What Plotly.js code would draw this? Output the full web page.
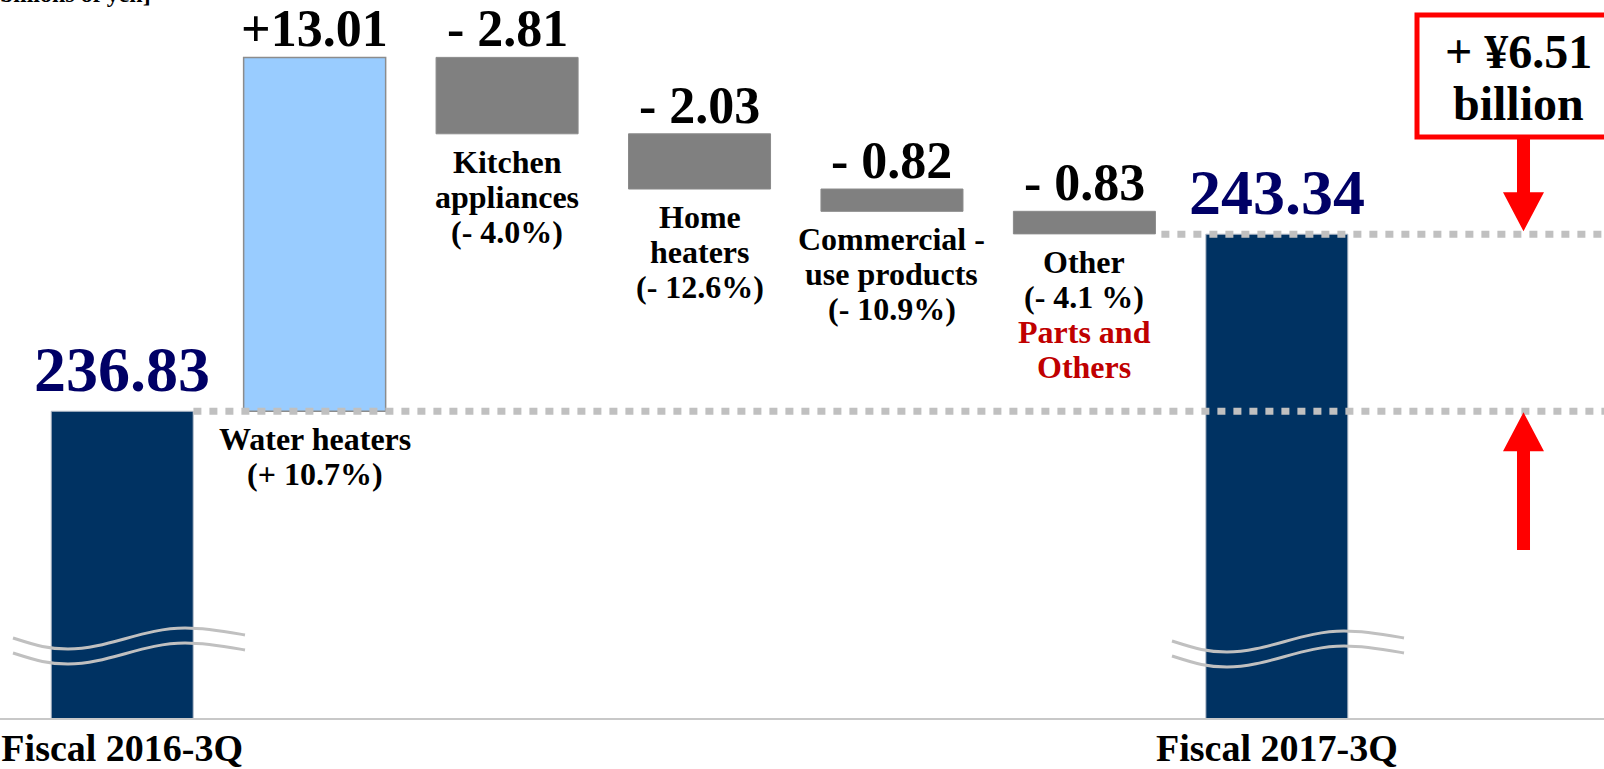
<!DOCTYPE html>
<html><head><meta charset="utf-8">
<script src="https://cdn.plot.ly/plotly-3.0.1.min.js"></script>
<style>html,body{margin:0;padding:0;background:#fff;overflow:hidden}#chart{width:1604px;height:769px}</style>
</head><body><div id="chart"></div>
<script>
// ---- data ----
const categories = ['Fiscal 2016-3Q', 'Water heaters', 'Kitchen appliances', 'Home heaters', 'Commercial-use products', 'Other', 'Fiscal 2017-3Q'];
const measures = ['absolute', 'relative', 'relative', 'relative', 'relative', 'relative', 'absolute'];
const values = [236.83, 13.01, -2.81, -2.03, -0.82, -0.83, 243.34];
const valueLabels = ['236.83', '+13.01', '- 2.81', '- 2.03', '- 0.82', '- 0.83', '243.34'];
const tickLabels = ['Fiscal 2016-3Q', '', '', '', '', '', 'Fiscal 2017-3Q'];
const categoryLabelLines = [[], ['Water heaters', '(+ 10.7%)'], ['Kitchen', 'appliances', '(- 4.0%)'], ['Home', 'heaters', '(- 12.6%)'], ['Commercial -', 'use products', '(- 10.9%)'], ['Other', '(- 4.1 %)'], []];
const noteLines = [[], [], [], [], [], ['Parts and', 'Others'], []];
const changeLines = ['+ ¥6.51', 'billion'];
const unitLabel = '[billions of yen]';

// ---- layout helpers ----
const W = 1604, PH = 718;            // plot area width / height in px
const yRange = [225.55, 251.95];
const xRange = [-0.635, 7.70];
const FONT = 'Liberation Serif, Times New Roman, serif';
const px = x => x / W;
const py = y => 1 - y / PH;
const valToPx = v => PH * (1 - (v - yRange[0]) / (yRange[1] - yRange[0]));

// running totals
const tops = [], bottoms = [];
let running = 0;
values.forEach((v, i) => {
  if (measures[i] === 'absolute') { running = v; tops.push(v); bottoms.push(null); }
  else { const prev = running; running += v; tops.push(Math.max(prev, running)); bottoms.push(Math.min(prev, running)); }
});

const annotations = [];
values.forEach((v, i) => {
  const isTotal = measures[i] === 'absolute';
  annotations.push({
    x: categories[i], y: tops[i], xref: 'x', yref: 'y', text: valueLabels[i], showarrow: false,
    xanchor: 'center', yanchor: 'bottom', yshift: isTotal ? 4 : -2,
    font: {family: FONT, size: isTotal ? 64 : 52, color: isTotal ? '#000066' : '#000000', weight: 'bold'}
  });
  const lines = categoryLabelLines[i].map(t => ({t, c: '#000000'})).concat(noteLines[i].map(t => ({t, c: '#C00000'})));
  lines.forEach((ln, k) => {
    annotations.push({
      x: categories[i], y: bottoms[i] !== null ? bottoms[i] : tops[i], xref: 'x', yref: 'y', text: ln.t, showarrow: false,
      xanchor: 'center', yanchor: 'top', yshift: -(8 + k * 35),
      font: {family: FONT, size: 32, color: ln.c, weight: 'bold'}
    });
  });
});
// change box text
changeLines.forEach((t, k) => {
  annotations.push({
    x: px(1518), y: py(23 + k * 52), xref: 'paper', yref: 'paper', text: t, showarrow: false,
    xanchor: 'center', yanchor: 'top', font: {family: FONT, size: 48, color: '#000000', weight: 'bold'}
  });
});
// unit label (cut at the top edge, as in the source slide)
annotations.push({
  x: px(153), y: py(9), xref: 'paper', yref: 'paper', text: unitLabel, showarrow: false,
  xanchor: 'right', yanchor: 'bottom', font: {family: FONT, size: 24, color: '#000000', weight: 'bold'}
});

// shapes
const shapes = [];
const dot = () => ({color: '#c0c0c0', width: 7, dash: '8px,8px'});
shapes.push({type: 'line', xref: 'x', yref: 'y', x0: 0.37, x1: xRange[1], y0: values[0], y1: values[0], line: dot()});
shapes.push({type: 'line', xref: 'x', yref: 'y', x0: 5.40, x1: xRange[1], y0: values[6], y1: values[6], line: dot()});

function wavePath(x0, y0) {
  const P = (x, y) => px(x).toFixed(5) + ',' + py(y).toFixed(5);
  return 'M' + P(x0, y0) +
    ' C' + P(x0 + 25, y0 + 8) + ' ' + P(x0 + 35, y0 + 11) + ' ' + P(x0 + 55, y0 + 11) +
    ' C' + P(x0 + 95, y0 + 11) + ' ' + P(x0 + 130, y0 - 10) + ' ' + P(x0 + 172, y0 - 10) +
    ' C' + P(x0 + 195, y0 - 10) + ' ' + P(x0 + 215, y0 - 6) + ' ' + P(x0 + 232, y0 - 3);
}
[[13, 638], [1172, 641]].forEach(([x0, y0]) => {
  [0, 15].forEach(d => shapes.push({type: 'path', xref: 'paper', yref: 'paper', path: wavePath(x0, y0 + d), line: {color: '#c0c0c0', width: 3}}));
});

// red box
shapes.push({type: 'rect', xref: 'paper', yref: 'paper', x0: px(1417), x1: 1.02, y0: py(15), y1: py(137),
  line: {color: '#ff0000', width: 5}, fillcolor: 'rgba(255,255,255,0)'});

function arrowPath(tipPx, dir, shaftEnd) {
  // dir = -1 arrow points up (tip at top), +1 points down
  const cx = 1523.5, hw = 20.5, sw = 6.5, hh = 39;
  const hb = tipPx - dir * hh;
  const P = (x, y) => px(x).toFixed(5) + ',' + py(y).toFixed(5);
  return 'M' + P(cx, tipPx) + ' L' + P(cx + hw, hb) + ' L' + P(cx + sw, hb) + ' L' + P(cx + sw, shaftEnd) +
    ' L' + P(cx - sw, shaftEnd) + ' L' + P(cx - sw, hb) + ' L' + P(cx - hw, hb) + ' Z';
}
shapes.push({type: 'path', xref: 'paper', yref: 'paper', path: arrowPath(valToPx(values[0]) + 1, -1, 550), fillcolor: '#ff0000', line: {width: 0}});
shapes.push({type: 'path', xref: 'paper', yref: 'paper', path: arrowPath(valToPx(values[6]) - 3, 1, 139), fillcolor: '#ff0000', line: {width: 0}});

const trace = {
  type: 'waterfall', x: categories, y: values, measure: measures,
  connector: {visible: false},
  increasing: {marker: {color: '#99ccff', line: {color: '#8c8c8c', width: 1.5}}},
  decreasing: {marker: {color: '#808080', line: {color: '#8a8a8a', width: 1}}},
  totals: {marker: {color: '#003262', line: {color: '#b8c0cc', width: 1}}},
  hoverinfo: 'skip', textinfo: 'none', cliponaxis: true
};

const layout = {
  width: 1604, height: 769,
  margin: {l: 0, r: 0, t: 0, b: 51, pad: 0},
  paper_bgcolor: '#ffffff', plot_bgcolor: '#ffffff',
  showlegend: false, waterfallgap: 0.262,
  xaxis: {
    type: 'category', range: xRange, tickmode: 'array', tickvals: categories, ticktext: tickLabels,
    ticks: '', showgrid: false, zeroline: false, showline: true, linecolor: '#c8c8c8', linewidth: 2,
    tickfont: {family: FONT, size: 38, color: '#000000', weight: 'bold'}, ticklabelstandoff: -5, fixedrange: true
  },
  yaxis: {range: yRange, visible: false, showgrid: false, zeroline: false, fixedrange: true},
  annotations, shapes
};
Plotly.newPlot('chart', [trace], layout, {displayModeBar: false, staticPlot: true});
</script></body></html>
